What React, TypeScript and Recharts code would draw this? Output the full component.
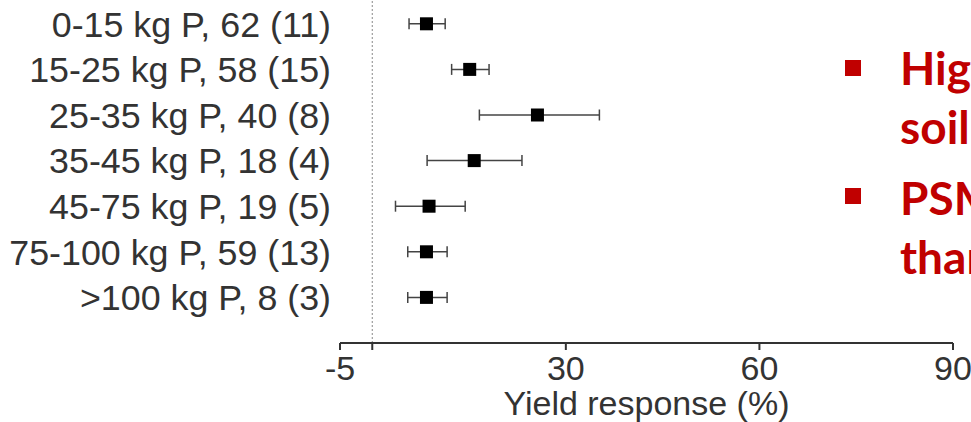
import React from "react";
import {
  ScatterChart,
  Scatter,
  XAxis,
  YAxis,
  ErrorBar,
  ReferenceLine,
} from "recharts";

// rows, top to bottom
const categories = [
  "0-15 kg P, 62 (11)",
  "15-25 kg P, 58 (15)",
  "25-35 kg P, 40 (8)",
  "35-45 kg P, 18 (4)",
  "45-75 kg P, 19 (5)",
  "75-100 kg P, 59 (13)",
  ">100 kg P, 8 (3)",
];
const means = [8.4, 15.1, 25.6, 15.8, 8.8, 8.4, 8.4];
const lower = [5.7, 12.3, 16.6, 8.5, 3.6, 5.5, 5.5];
const upper = [11.3, 18.1, 35.2, 23.2, 14.4, 11.6, 11.6];
const xTicks = [-5, 0, 30, 60, 90];

const notes = [
  ["High", "soil"],
  ["PSM", "than"],
];

const data = categories.map((name, i) => ({
  name,
  row: i,
  mean: means[i],
  err: [means[i] - lower[i], upper[i] - means[i]],
}));

const FONT = '"Liberation Sans", Arial, Helvetica, sans-serif';
const INK = "#333";

function SquareDot(props: any) {
  const { cx, cy } = props;
  if (cx == null || cy == null) return null;
  return <rect x={cx - 6.5} y={cy - 6.5} width={13} height={13} fill="#000" />;
}

function AxisTitle(props: any) {
  const vb = props.viewBox || {};
  return (
    <text
      x={vb.x + vb.width / 2}
      y={vb.y + 72}
      textAnchor="middle"
      fontSize={34}
      fontFamily={FONT}
      fill={INK}
    >
      Yield response (%)
    </text>
  );
}

export default function App() {
  return (
    <div
      style={{
        position: "absolute",
        left: 0,
        top: 0,
        width: 971,
        height: 422,
        overflow: "hidden",
        background: "#fff",
      }}
    >
      <ScatterChart
        width={971}
        height={422}
        margin={{ top: 1, right: 18, left: 0, bottom: 0 }}
      >
        <XAxis
          type="number"
          dataKey="mean"
          domain={[-5, 90]}
          ticks={xTicks}
          interval={0}
          tickFormatter={(v: number) => (v === 0 ? "" : String(v))}
          height={79}
          axisLine={{ stroke: INK, strokeWidth: 2 }}
          tickLine={{ stroke: INK, strokeWidth: 2 }}
          tickSize={7}
          tickMargin={6}
          tick={{ fontSize: 34, fontFamily: FONT, fill: INK }}
          label={<AxisTitle />}
        />
        <YAxis
          type="number"
          dataKey="row"
          domain={[-0.5, 7]}
          reversed
          ticks={[0, 1, 2, 3, 4, 5, 6]}
          interval={0}
          tickFormatter={(v: number) => categories[v] ?? ""}
          width={340}
          axisLine={false}
          tickLine={false}
          tickSize={0}
          tickMargin={9}
          tick={{ fontSize: 35.8, fontFamily: FONT, fill: INK }}
        />
        <ReferenceLine
          x={0}
          stroke="#888"
          strokeWidth={1}
          strokeDasharray="2 2"
        />
        <Scatter data={data} shape={<SquareDot />} isAnimationActive={false}>
          <ErrorBar
            dataKey="err"
            direction="x"
            width={5.5}
            stroke="#444"
            strokeWidth={1.5}
            isAnimationActive={false}
          />
        </Scatter>
      </ScatterChart>
      <svg
        width={971}
        height={422}
        style={{ position: "absolute", left: 0, top: 0, pointerEvents: "none" }}
      >
        {notes.map((lines, i) => (
          <g key={i}>
            <rect x={845} y={i === 0 ? 60 : 188} width={16} height={16} fill="#C00000" />
            {lines.map((t, j) => (
              <text
                key={j}
                x={900}
                y={(i === 0 ? 85 : 215) + j * 59}
                fontSize={46}
                fontWeight={700}
                fontFamily="Lato, 'Open Sans', sans-serif"
                fill="#C00000"
              >
                {t}
              </text>
            ))}
          </g>
        ))}
      </svg>
    </div>
  );
}
